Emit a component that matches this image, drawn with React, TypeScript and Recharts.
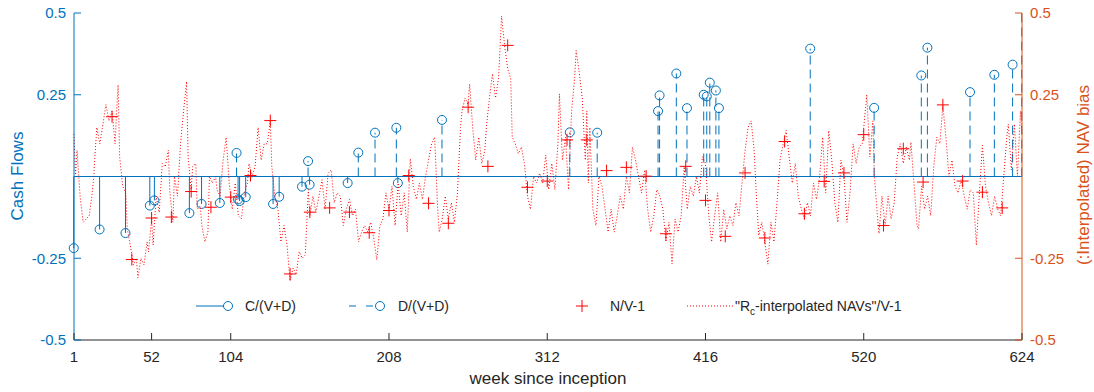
import { Bar, ComposedChart, Line, ReferenceLine, Scatter, XAxis, YAxis } from 'recharts';

const BLUE = '#0072BD';
const ORANGE = '#D95319';
const RED = '#FF0000';
const INK = '#262626';

const weekTicks = [1, 52, 104, 208, 312, 416, 520, 624];
const flowDomain = [-0.5, 0.5];
const flowTicks = [-0.5, -0.25, 0.25, 0.5];
const biasTicks = [-0.5, -0.25, 0.25, 0.5];

// C/(V+D): [week, value]
const calls = [
  [1, -0.219], [18, -0.162], [35, -0.173], [51, -0.089], [54, -0.073], [77, -0.112], [85, -0.084],
  [97, -0.081], [109, -0.07], [110, -0.075], [114, -0.063], [132, -0.084], [136, -0.062],
  [151, -0.031], [156, -0.025], [181, -0.02], [214, -0.02],
];

// D/(V+D): [week, value]
const dists = [
  [108, 0.072], [155, 0.047], [188, 0.073], [199, 0.134], [213, 0.149], [243, 0.173], [327, 0.135],
  [345, 0.134], [385, 0.2], [386, 0.248], [397, 0.315], [404, 0.209], [415, 0.25], [417, 0.245],
  [419, 0.287], [423, 0.263], [425, 0.209], [485, 0.391], [527, 0.21], [558, 0.309], [562, 0.394],
  [590, 0.258], [606, 0.311], [618, 0.342], [624, 0.62],
];

// N/V-1, quarterly
const navWeeks = [
  26, 39, 52, 65, 78, 91, 104, 117, 130, 143, 156, 169, 182, 195, 208, 221, 234, 247, 260, 273, 286, 299,
  312, 325, 338, 351, 364, 377, 390, 403, 416, 429, 442, 455, 468, 481, 494, 507, 520, 533, 546, 559,
  572, 585, 598, 611,
];
const navBias = [
  0.183, -0.254, -0.127, -0.124, -0.046, -0.094, -0.063, 0.003, 0.171, -0.298, -0.109, -0.096, -0.109,
  -0.172, -0.104, 0.003, -0.082, -0.143, 0.212, 0.031, 0.401, -0.033, -0.014, 0.112, 0.112, 0.018,
  0.028, 0.001, -0.175, 0.031, -0.073, -0.183, 0.011, -0.188, 0.107, -0.114, -0.015, 0.011, 0.128,
  -0.15, 0.085, -0.017, 0.219, -0.014, -0.048, -0.096,
];

// "Rc-interpolated NAVs"/V-1: [week, value]
const interpNav = [
  [1, 0.13], [2, 0.0], [3, 0.08], [5, -0.06], [7, -0.14], [9, -0.13], [11, -0.12], [13, -0.05], [14, 0.0],
  [15, 0.08], [16, 0.15], [18, 0.1], [20, 0.16], [22, 0.22], [24, 0.17], [26, 0.2], [28, 0.1], [29, 0.2],
  [30, 0.28], [31, 0.06], [33, -0.03], [35, -0.05], [36, -0.16], [38, -0.21], [40, -0.27], [42, -0.25],
  [43, -0.31], [45, -0.25], [47, -0.27], [49, -0.2], [50, -0.23], [52, -0.13], [53, -0.21], [55, -0.06],
  [57, -0.11], [59, 0.04], [61, 0.03], [63, 0.08], [64, -0.05], [66, -0.14], [67, 0.0], [69, -0.06],
  [71, 0.1], [73, 0.2], [75, 0.29], [76, 0.06], [78, -0.04], [79, 0.03], [81, 0.04], [82, -0.1],
  [84, -0.09], [85, -0.15], [87, -0.2], [89, -0.17], [90, 0.0], [92, -0.02], [94, 0.0], [95, -0.04],
  [97, -0.06], [99, 0.05], [101, 0.12], [103, -0.02], [105, -0.1], [107, -0.02], [109, -0.12],
  [111, -0.13], [113, -0.05], [115, -0.02], [116, 0.04], [118, 0.0], [120, 0.03], [122, 0.15], [124, 0.05],
  [126, 0.1], [128, 0.1], [130, 0.17], [131, 0.03], [133, -0.06], [135, -0.1], [137, -0.2], [139, -0.15],
  [141, -0.21], [143, -0.32], [145, -0.28], [147, -0.3], [149, -0.23], [151, -0.25], [153, -0.24],
  [155, -0.04], [156, -0.12], [158, -0.06], [160, -0.11], [162, -0.06], [164, -0.01], [166, -0.1],
  [168, 0.01], [170, 0.02], [172, -0.08], [174, -0.05], [176, -0.06], [178, -0.15], [180, -0.1],
  [182, -0.07], [184, -0.12], [186, -0.1], [188, -0.2], [190, -0.17], [192, -0.15], [194, -0.17],
  [196, -0.14], [198, -0.19], [200, -0.255], [202, -0.15], [204, -0.13], [206, -0.05], [208, -0.1],
  [210, -0.03], [212, -0.15], [214, -0.02], [216, -0.12], [218, -0.05], [220, -0.17], [222, 0.054],
  [224, -0.03], [226, -0.07], [228, -0.02], [230, -0.07], [232, 0.0], [234, 0.05], [236, 0.1], [238, 0.12],
  [240, -0.1], [241, -0.17], [243, -0.13], [245, -0.06], [247, -0.13], [249, -0.08], [251, -0.14],
  [253, -0.05], [255, 0.15], [256, 0.2], [258, 0.24], [260, 0.22], [261, 0.283], [263, 0.15], [265, 0.05],
  [267, 0.12], [269, 0.04], [271, 0.08], [272, 0.15], [274, 0.24], [276, 0.314], [278, 0.24], [280, 0.3],
  [282, 0.49], [284, 0.4], [286, 0.33], [288, 0.3], [289, 0.12], [291, 0.1], [293, 0.07], [295, 0.09],
  [297, 0.04], [299, -0.06], [301, -0.1], [303, 0.0], [305, -0.02], [307, 0.01], [309, -0.02], [311, 0.065],
  [313, -0.04], [315, 0.04], [317, -0.04], [319, 0.1], [320, 0.253], [322, 0.05], [324, 0.12], [326, -0.04],
  [328, 0.2], [330, 0.3], [331, 0.385], [333, 0.32], [335, 0.24], [337, 0.05], [338, 0.2], [339, -0.02],
  [340, 0.15], [342, -0.1], [344, -0.15], [346, 0.0], [348, -0.03], [350, -0.1], [352, -0.17], [354, -0.1],
  [356, -0.17], [358, -0.12], [360, -0.06], [362, -0.1], [364, 0.0], [366, -0.05], [368, 0.09], [370, 0.05],
  [372, 0.0], [374, -0.05], [376, 0.02], [378, -0.1], [380, -0.17], [382, -0.12], [384, -0.04], [386, -0.06],
  [388, -0.1], [390, -0.2], [392, -0.14], [394, -0.267], [396, -0.13], [398, -0.17], [400, -0.12],
  [402, 0.03], [404, -0.1], [406, -0.03], [408, -0.06], [410, 0.0], [412, -0.05], [414, 0.06], [416, 0.04],
  [418, -0.11], [420, -0.2], [422, -0.12], [424, -0.05], [426, -0.2], [428, -0.1], [430, -0.16],
  [432, -0.12], [434, -0.15], [436, -0.08], [438, -0.12], [440, -0.02], [442, 0.08], [444, 0.15],
  [446, 0.17], [448, 0.08], [449, -0.02], [451, -0.18], [453, -0.14], [455, -0.2], [457, -0.268],
  [459, -0.14], [461, -0.2], [463, -0.08], [465, 0.05], [467, 0.1], [469, 0.141], [471, 0.06], [473, -0.02],
  [475, 0.04], [477, -0.06], [479, -0.1], [481, -0.13], [483, -0.08], [485, -0.12], [487, -0.02],
  [489, -0.07], [491, 0.0], [493, 0.12], [495, -0.05], [497, 0.14], [499, 0.05], [501, -0.08], [503, -0.14],
  [505, 0.05], [507, 0.0], [509, -0.14], [511, -0.05], [513, 0.1], [515, 0.04], [517, 0.09], [519, 0.1],
  [521, 0.2], [522, 0.25], [524, 0.06], [526, 0.17], [527, 0.0], [529, -0.12], [530, -0.175], [532, -0.06],
  [534, -0.15], [536, -0.06], [538, -0.13], [540, -0.08], [542, 0.06], [544, 0.1], [546, 0.04], [548, 0.09],
  [550, 0.05], [551, 0.105], [553, -0.02], [555, -0.15], [556, -0.16], [558, -0.03], [560, -0.1],
  [562, -0.06], [564, -0.12], [566, 0.03], [568, 0.12], [570, 0.1], [572, 0.217], [574, 0.12], [576, 0.0],
  [578, 0.05], [580, -0.03], [582, -0.05], [584, -0.01], [586, -0.06], [588, -0.1], [590, -0.04],
  [592, -0.05], [594, -0.21], [596, -0.05], [598, 0.095], [600, -0.03], [602, -0.08], [604, -0.12],
  [606, -0.06], [608, -0.1], [610, -0.12], [612, 0.0], [614, 0.12], [615, 0.16], [617, 0.02], [619, 0.16],
  [621, 0.0], [623, 0.2], [624, 0.13],
];

const flowWeeks = Array.from(new Set([...calls, ...dists].map((p) => p[0]))).sort((a, b) => a - b);
const flowData = flowWeeks.map((week) => ({
  week,
  c: calls.find((p) => p[0] === week)?.[1] ?? null,
  d: dists.find((p) => p[0] === week)?.[1] ?? null,
}));
const nvData = navWeeks.map((week, i) => ({ week, nv: navBias[i] }));
const interpData = interpNav.map(([week, bias]) => ({ week, bias }));

// stem from the baseline to the value, circle at the tip (hidden when the value is off the axis)
const stem = (key: 'c' | 'd', dashed: boolean) => (props: any) => {
  const { x, y, width, height, payload } = props;
  if (payload == null || payload[key] == null) return <g />;
  const v = payload[key];
  const inside = v >= flowDomain[0] && v <= flowDomain[1];
  const cx = x + width / 2;
  return (
    <g>
      <line x1={cx} y1={y + height} x2={cx} y2={y} stroke={BLUE} strokeWidth={1} strokeDasharray={dashed ? '9 5' : undefined} />
      {inside && <circle cx={cx} cy={y} r={4.5} fill="none" stroke={BLUE} strokeWidth={1} />}
    </g>
  );
};

const Plus = (props: any) => {
  const { cx, cy } = props;
  if (cx == null || cy == null) return <g />;
  return (
    <g stroke={RED} strokeWidth={1}>
      <line x1={cx - 6} y1={cy} x2={cx + 6} y2={cy} />
      <line x1={cx} y1={cy - 6} x2={cx} y2={cy + 6} />
    </g>
  );
};

const LeftTick = ({ x, y, payload }: any) => (
  <g>
    <line x1={x} y1={y} x2={x + 7} y2={y} stroke={BLUE} />
    <text x={x - 8} y={y} dy="0.36em" textAnchor="end" fill={BLUE} fontSize={15}>{String(payload.value)}</text>
  </g>
);

const RightTick = ({ x, y, payload }: any) => (
  <g>
    <line x1={x - 7} y1={y} x2={x} y2={y} stroke={ORANGE} />
    <text x={x + 8} y={y} dy="0.36em" textAnchor="start" fill={ORANGE} fontSize={15}>{String(payload.value)}</text>
  </g>
);

const BottomTick = ({ x, y, payload }: any) => (
  <g>
    <line x1={x} y1={y - 7} x2={x} y2={y} stroke={INK} />
    <text x={x} y={y + 22} textAnchor="middle" fill={INK} fontSize={15}>{String(payload.value)}</text>
  </g>
);

const LegendOverlay = () => (
  <svg width={1094} height={392} style={{ position: 'absolute', left: 0, top: 0, pointerEvents: 'none' }}>
    <text x={17} y={176} dy="0.36em" textAnchor="middle" fill={BLUE} fontSize={17} transform="rotate(-90 17 176)">Cash Flows</text>
    <text x={1083} y={175} dy="0.36em" textAnchor="middle" fill={ORANGE} fontSize={17} transform="rotate(-90 1083 175)">(:Interpolated) NAV bias</text>
    <text x={548} y={384} textAnchor="middle" fill={INK} fontSize={17}>week since inception</text>
    <g fontSize={14} fill={INK}>
      <line x1={196} y1={306} x2={224} y2={306} stroke={BLUE} />
      <circle cx={228} cy={306} r={4.5} fill="none" stroke={BLUE} />
      <text x={245} y={306} dy="0.36em">C/(V+D)</text>
      <line x1={349} y1={306} x2={376} y2={306} stroke={BLUE} strokeDasharray="7 10" />
      <circle cx={380} cy={306} r={4.5} fill="none" stroke={BLUE} />
      <text x={398} y={306} dy="0.36em">D/(V+D)</text>
      <line x1={576} y1={306} x2={588} y2={306} stroke={RED} />
      <line x1={582} y1={300} x2={582} y2={312} stroke={RED} />
      <text x={610} y={306} dy="0.36em">N/V-1</text>
      <line x1={687} y1={306} x2={733} y2={306} stroke={RED} strokeDasharray="1 2" />
      <text x={735} y={306} dy="0.36em">
        "R<tspan fontSize={10} dy={4}>c</tspan><tspan dy={-4}>-interpolated NAVs"/V-1</tspan>
      </text>
    </g>
  </svg>
);

export default function App() {
  return (
    <div style={{ position: 'absolute', left: 0, top: 0, width: 1094, height: 392, background: '#fff', fontFamily: '"Liberation Sans", Arial, sans-serif' }}>
      <ComposedChart width={1094} height={392} data={flowData} stackOffset="sign" margin={{ top: 13, right: 0, bottom: 0, left: 0 }}>
        <XAxis
          dataKey="week"
          type="number"
          domain={[1, 624]}
          ticks={weekTicks}
          interval={0}
          height={52}
          tickSize={0}
          tickMargin={0}
          tickLine={false}
          axisLine={{ stroke: INK }}
          tick={BottomTick}
        />
        <YAxis
          yAxisId="left"
          domain={flowDomain}
          ticks={flowTicks}
          interval={0}
          allowDataOverflow
          width={74}
          tickSize={0}
          tickMargin={0}
          tickLine={false}
          axisLine={{ stroke: BLUE }}
          tick={LeftTick}
        />
        <YAxis
          yAxisId="right"
          orientation="right"
          domain={[-0.5, 0.5]}
          ticks={biasTicks}
          interval={0}
          allowDataOverflow
          width={72}
          tickSize={0}
          tickMargin={0}
          tickLine={false}
          axisLine={{ stroke: ORANGE }}
          tick={RightTick}
        />
        <ReferenceLine yAxisId="left" y={0} stroke={BLUE} strokeWidth={1} />
        <Bar yAxisId="left" dataKey="c" stackId="cf" barSize={1} shape={stem('c', false)} isAnimationActive={false} />
        <Bar yAxisId="left" dataKey="d" stackId="cf" barSize={1} shape={stem('d', true)} isAnimationActive={false} />
        <Scatter yAxisId="right" data={nvData} dataKey="nv" shape={(p: any) => <Plus {...p} />} isAnimationActive={false} />
        <Line
          yAxisId="right"
          data={interpData}
          dataKey="bias"
          type="linear"
          stroke={RED}
          strokeWidth={1}
          strokeDasharray="1 2"
          dot={false}
          activeDot={false}
          connectNulls
          isAnimationActive={false}
        />
      </ComposedChart>
      <LegendOverlay />
    </div>
  );
}
